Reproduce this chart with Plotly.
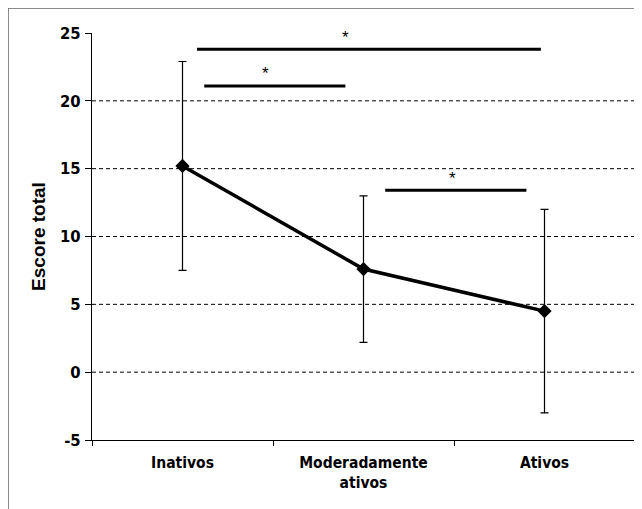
import plotly.graph_objects as go

categories = ["Inativos", "Moderadamente<br>ativos", "Ativos"]
means = [15.2, 7.6, 4.5]
err_plus = [7.7, 5.4, 7.5]
err_minus = [7.7, 5.4, 7.5]

y_ticks = [-5, 0, 5, 10, 15, 20, 25]
y_ticktext = ["-5", "0", "5", "10", "15", "20", "25"]
grid_vals = [0, 5, 10, 15, 20]

# significance bars (category-index coordinates)
sig_x0 = [0.08, 0.12, 1.12]
sig_x1 = [1.98, 0.90, 1.90]
sig_y = [23.8, 21.1, 13.4]
star_x = [0.90, 0.46, 1.49]
star_y = [24.7, 22.0, 14.3]

TICKFONT = "DejaVu Sans Condensed, Liberation Sans"

fig = go.Figure()
fig.add_trace(go.Scatter(
    x=categories, y=means, mode="lines+markers",
    line=dict(color="black", width=3.5),
    marker=dict(symbol="diamond", size=11, color="black"),
    error_y=dict(type="data", array=err_plus, arrayminus=err_minus,
                 color="black", thickness=1.2, width=4),
    showlegend=False,
))

shapes = []
for g in grid_vals:
    shapes.append(dict(type="line", xref="paper", x0=0, x1=1, yref="y", y0=g, y1=g,
                       line=dict(color="black", width=1, dash="4px,3px"), layer="below"))
for a, b, yy in zip(sig_x0, sig_x1, sig_y):
    shapes.append(dict(type="line", xref="x", x0=a, x1=b, yref="y", y0=yy, y1=yy,
                       line=dict(color="black", width=3)))
# outer frame (partially cropped)
shapes.append(dict(type="rect", xref="paper", yref="paper", x0=-84 / 543, x1=1.2,
                   y0=-0.4, y1=1 + 25 / 407, line=dict(color="#666666", width=1.5)))

annotations = []
for sx, sy in zip(star_x, star_y):
    annotations.append(dict(x=sx, y=sy, xref="x", yref="y", text="*", showarrow=False,
                            font=dict(family="Liberation Sans", size=17, color="black")))

fig.update_layout(
    width=634, height=501,
    margin=dict(l=84, r=7, t=25, b=69, autoexpand=False),
    paper_bgcolor="white", plot_bgcolor="white",
    shapes=shapes, annotations=annotations,
    font=dict(family=TICKFONT, color="black"),
    xaxis=dict(
        type="category", range=[-0.5, 2.5], showgrid=False, zeroline=False,
        showline=True, linecolor="black", linewidth=1,
        ticks="outside", tickson="boundaries", ticklen=5, tickcolor="black",
        tickfont=dict(family=TICKFONT, size=15.5, color="black", weight="bold"),
        ticklabelstandoff=8, automargin=False,
    ),
    yaxis=dict(
        range=[-5, 25], tickvals=y_ticks, ticktext=y_ticktext,
        showgrid=False, zeroline=False,
        showline=True, linecolor="black", linewidth=1,
        ticks="outside", ticklen=6, tickcolor="black", automargin=False,
        tickfont=dict(family=TICKFONT, size=16.5, color="black", weight="bold"),
        ticklabelstandoff=1,
        title=dict(text="Escore total", standoff=9,
                   font=dict(family="Liberation Sans, Arial", size=19, color="black",
                             weight="bold")),
    ),
)

fig.write_html("out.html")
